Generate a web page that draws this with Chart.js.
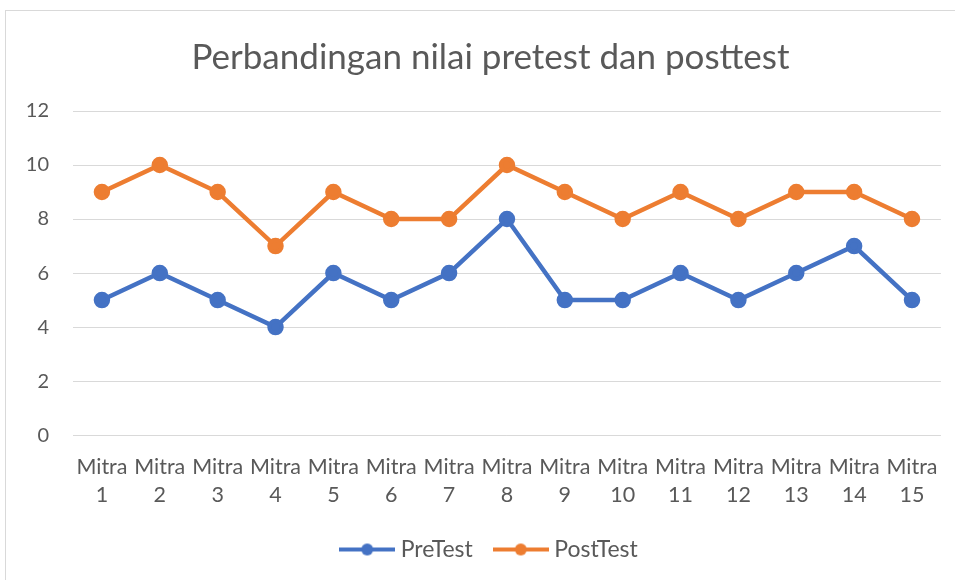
<!DOCTYPE html>
<html>
<head>
<meta charset="utf-8">
<script src="https://cdn.jsdelivr.net/npm/chart.js@4"></script>
<style>
  body { margin: 0; background: #fff; }
  #wrap {
    position: absolute; left: 5px; top: 10px;
    width: 950px; height: 570px;
    border-left: 1px solid #d9d9d9; border-top: 1px solid #d9d9d9;
  }
</style>
</head>
<body>
<div id="wrap"><canvas id="chart"></canvas></div>
<script>
// --- DATA ---
const mitra = ['1','2','3','4','5','6','7','8','9','10','11','12','13','14','15'];
const preTest = [5, 6, 5, 4, 6, 5, 6, 8, 5, 5, 6, 5, 6, 7, 5];
const postTest = [9, 10, 9, 7, 9, 8, 8, 10, 9, 8, 9, 8, 9, 9, 8];
const yTicks = [0, 2, 4, 6, 8, 10, 12];

const BLUE = '#4472c4';
const ORANGE = '#ed7d31';
const FONT = 'Lato, "Open Sans", sans-serif';

// little line + dot icon for the legend
function legendIcon(color){
  const c = document.createElement('canvas');
  c.width = 56; c.height = 14;
  const g = c.getContext('2d');
  g.strokeStyle = color;
  g.lineWidth = 4;
  g.beginPath(); g.moveTo(0, 7); g.lineTo(56, 7); g.stroke();
  g.fillStyle = color;
  g.beginPath(); g.arc(28, 7, 6, 0, Math.PI * 2); g.fill();
  return c;
}

// title and legend sit a bit right of the canvas centre (Excel centres them
// on the whole chart box), and the legend a little higher
const nudge = {
  id: 'nudge',
  afterLayout(chart){
    const t = chart.titleBlock, l = chart.legend;
    t.left += 17; t.right += 17;
    l.left += 18; l.right += 18;
    l.top -= 15; l.bottom -= 15;
  }
};

const ctx = document.getElementById('chart').getContext('2d');
new Chart(ctx, {
  type: 'line',
  data: {
    labels: mitra.map(n => ['Mitra', n]),
    datasets: [
      { label: 'PreTest', data: preTest, borderColor: BLUE, backgroundColor: BLUE,
        borderWidth: 4.5, pointRadius: 6, pointHoverRadius: 6, tension: 0 },
      { label: 'PostTest', data: postTest, borderColor: ORANGE, backgroundColor: ORANGE,
        borderWidth: 4.5, pointRadius: 6, pointHoverRadius: 6, tension: 0 }
    ]
  },
  plugins: [nudge],
  options: {
    responsive: true,
    maintainAspectRatio: false,
    animation: false,
    layout: { padding: { left: 0, right: 15, top: 0, bottom: -5 } },
    plugins: {
      title: {
        display: true,
        text: 'Perbandingan nilai pretest dan posttest',
        color: '#595959',
        font: { family: FONT, size: 35, weight: 'normal' },
        padding: { top: 26, bottom: 32 }
      },
      legend: {
        position: 'bottom',
        labels: {
          color: '#595959',
          font: { family: FONT, size: 23 },
          usePointStyle: true,
          pointStyleWidth: 44,
          padding: 26,
          generateLabels: chart => chart.data.datasets.map((ds, i) => ({
            text: ds.label,
            fontColor: '#595959',
            pointStyle: legendIcon(ds.borderColor),
            datasetIndex: i,
            lineWidth: 0,
            strokeStyle: 'transparent',
            fillStyle: ds.borderColor
          }))
        }
      },
      tooltip: { enabled: false }
    },
    scales: {
      x: {
        offset: true,
        grid: { display: false, drawTicks: false },
        border: { display: false },
        ticks: {
          color: '#595959',
          font: { family: FONT, size: 21.5, lineHeight: 1.3 },
          maxRotation: 0,
          autoSkip: false,
          padding: 18
        }
      },
      y: {
        min: 0, max: 12,
        afterBuildTicks: s => { s.ticks = yTicks.map(v => ({ value: v })); },
        afterFit: s => { s.width = 67; },
        grid: { color: '#d9d9d9', lineWidth: 1, drawTicks: false },
        border: { display: false },
        ticks: {
          color: '#595959',
          font: { family: FONT, size: 20 },
          padding: 24
        }
      }
    }
  }
});
</script>
</body>
</html>
